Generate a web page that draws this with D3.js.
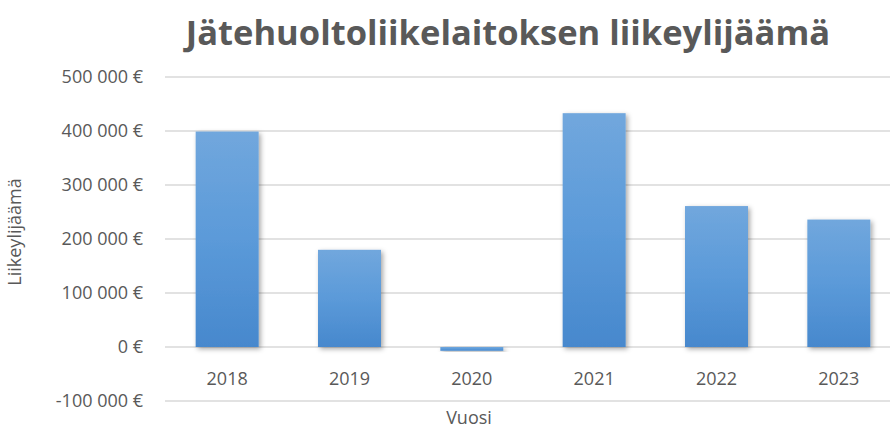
<!DOCTYPE html>
<html>
<head>
<meta charset="utf-8">
<script src="https://cdn.jsdelivr.net/npm/d3@7"></script>
<style>
  body { margin: 0; background: #fff; }
  text { font-family: "Open Sans", "Liberation Sans", sans-serif; fill: #595959; }
</style>
</head>
<body>
<div id="chart"></div>
<script>
// Chart data
const years = ["2018", "2019", "2020", "2021", "2022", "2023"];
const surplus = [399000, 180000, -7000, 433000, 261000, 236000];
const yTicks = [-100000, 0, 100000, 200000, 300000, 400000, 500000];

const W = 890, H = 430;
const plot = { left: 166, right: 900, top: 77, bottom: 401 };

const svg = d3.select("#chart")
  .append("svg")
  .attr("width", W)
  .attr("height", H);

// Gradient and shadow for the bars
const defs = svg.append("defs");
const grad = defs.append("linearGradient")
  .attr("id", "barGrad")
  .attr("x1", 0).attr("y1", 0).attr("x2", 0).attr("y2", 1);
grad.append("stop").attr("offset", "0%").attr("stop-color", "#71a7dd");
grad.append("stop").attr("offset", "50%").attr("stop-color", "#5b9ad9");
grad.append("stop").attr("offset", "100%").attr("stop-color", "#4788cd");

const shadow = defs.append("filter")
  .attr("id", "shadow")
  .attr("x", "-20%").attr("y", "-20%")
  .attr("width", "150%").attr("height", "150%");
shadow.append("feDropShadow")
  .attr("dx", 2).attr("dy", 2)
  .attr("stdDeviation", 2.5)
  .attr("flood-color", "#000")
  .attr("flood-opacity", 0.35);

const x = d3.scaleBand()
  .domain(years)
  .range([plot.left, plot.right])
  .paddingInner(0.485)
  .paddingOuter(0.2425);

const y = d3.scaleLinear()
  .domain([-100000, 500000])
  .range([plot.bottom, plot.top]);

const fmt = v => d3.format(",")(v).replace(/,/g, " ").replace("−", "-") + " €";

// Gridlines
svg.append("g")
  .selectAll("line")
  .data(yTicks)
  .enter()
  .append("line")
  .attr("x1", 165)
  .attr("x2", W)
  .attr("y1", d => y(d))
  .attr("y2", d => y(d))
  .attr("stroke", "#d9d9d9")
  .attr("stroke-width", 1.5);

// Y tick labels
svg.append("g")
  .selectAll("text")
  .data(yTicks)
  .enter()
  .append("text")
  .attr("x", 143)
  .attr("y", d => y(d))
  .attr("dy", "0.35em")
  .attr("text-anchor", "end")
  .style("font-size", "18px")
  .text(d => fmt(d));

// Bars
svg.append("g")
  .selectAll("rect")
  .data(surplus)
  .enter()
  .append("rect")
  .attr("x", (d, i) => x(years[i]))
  .attr("y", d => y(Math.max(0, d)))
  .attr("width", x.bandwidth())
  .attr("height", d => Math.abs(y(d) - y(0)))
  .attr("fill", "url(#barGrad)")
  .attr("filter", "url(#shadow)");

// Category labels
svg.append("g")
  .selectAll("text")
  .data(years)
  .enter()
  .append("text")
  .attr("x", d => x(d) + x.bandwidth() / 2)
  .attr("y", y(0) + 38)
  .attr("text-anchor", "middle")
  .style("font-size", "18px")
  .text(d => d);

// Axis titles
svg.append("text")
  .attr("x", 469)
  .attr("y", 424)
  .attr("text-anchor", "middle")
  .style("font-size", "18px")
  .text("Vuosi");

svg.append("text")
  .attr("transform", "translate(21,232) rotate(-90)")
  .attr("text-anchor", "middle")
  .style("font-size", "18px")
  .text("Liikeylijäämä");

// Title
svg.append("text")
  .attr("x", 508)
  .attr("y", 45)
  .attr("text-anchor", "middle")
  .style("font-size", "34.5px")
  .style("font-weight", "bold")
  .text("Jätehuoltoliikelaitoksen liikeylijäämä");
</script>
</body>
</html>
